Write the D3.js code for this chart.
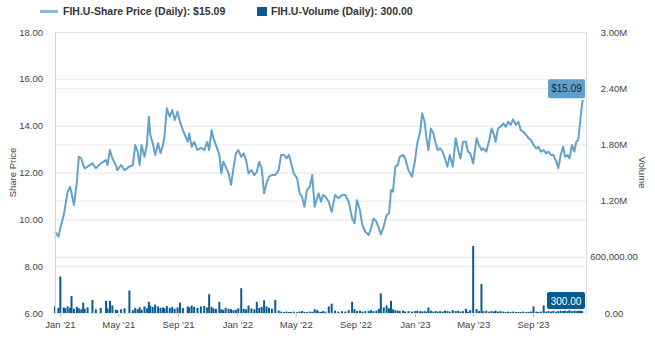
<!DOCTYPE html>
<html><head><meta charset="utf-8">
<script src="https://cdn.jsdelivr.net/npm/d3@7"></script>
<style>
html,body{margin:0;padding:0;background:#fff;}
svg{display:block;font-family:"Liberation Sans",Arial,sans-serif;}
</style></head>
<body>
<svg id="chart" width="655" height="349"></svg>
<script>
// ---- data ----
const dates = [
 "2020-12-22","2020-12-29","2021-01-02","2021-01-09","2021-01-12","2021-01-17","2021-01-22","2021-01-25","2021-01-30",
 "2021-02-05","2021-02-09","2021-02-14","2021-02-18","2021-02-21","2021-02-27",
 "2021-03-09","2021-03-16","2021-03-26",
 "2021-04-06","2021-04-09","2021-04-14","2021-04-19","2021-04-26","2021-04-29",
 "2021-05-07","2021-05-14","2021-05-24","2021-05-31",
 "2021-06-05","2021-06-10","2021-06-14","2021-06-18","2021-06-24","2021-06-29",
 "2021-07-03","2021-07-06","2021-07-11","2021-07-16","2021-07-22","2021-07-27",
 "2021-08-01","2021-08-04","2021-08-09","2021-08-15","2021-08-20","2021-08-25","2021-08-31",
 "2021-09-05","2021-09-11","2021-09-21","2021-09-24","2021-09-29",
 "2021-10-04","2021-10-11","2021-10-18","2021-10-25","2021-10-31",
 "2021-11-04","2021-11-09","2021-11-13","2021-11-18","2021-11-25","2021-11-29",
 "2021-12-03","2021-12-08","2021-12-14","2021-12-19","2021-12-24","2021-12-29",
 "2022-01-03","2022-01-09","2022-01-14","2022-01-19","2022-01-24","2022-01-30",
 "2022-02-05","2022-02-10","2022-02-15","2022-02-20","2022-02-25",
 "2022-03-02","2022-03-07","2022-03-13","2022-03-20","2022-03-27",
 "2022-04-01","2022-04-07","2022-04-12","2022-04-17","2022-04-21","2022-04-27",
 "2022-05-04","2022-05-09","2022-05-14","2022-05-19","2022-05-24","2022-05-30",
 "2022-06-04","2022-06-09","2022-06-14","2022-06-17","2022-06-22","2022-06-26",
 "2022-07-01","2022-07-08","2022-07-14","2022-07-21","2022-07-28",
 "2022-08-04","2022-08-11","2022-08-18","2022-08-25","2022-08-30",
 "2022-09-04","2022-09-10","2022-09-15","2022-09-21","2022-09-28",
 "2022-10-03","2022-10-08","2022-10-14","2022-10-19","2022-10-23","2022-10-29",
 "2022-11-04","2022-11-09","2022-11-13","2022-11-17","2022-11-22","2022-11-27",
 "2022-12-01","2022-12-08","2022-12-12","2022-12-19","2022-12-26",
 "2023-01-01","2023-01-06","2023-01-12","2023-01-16","2023-01-21","2023-01-25","2023-01-29",
 "2023-02-03","2023-02-08","2023-02-13","2023-02-17","2023-02-22","2023-02-27",
 "2023-03-04","2023-03-09","2023-03-14","2023-03-20","2023-03-26","2023-03-31",
 "2023-04-05","2023-04-10","2023-04-16","2023-04-20","2023-04-25",
 "2023-05-01","2023-05-08","2023-05-13","2023-05-18","2023-05-22","2023-05-28",
 "2023-06-03","2023-06-08","2023-06-13","2023-06-16","2023-06-21","2023-06-26",
 "2023-07-02","2023-07-07","2023-07-12","2023-07-17","2023-07-22","2023-07-28",
 "2023-08-02","2023-08-07","2023-08-12","2023-08-18","2023-08-23","2023-08-28",
 "2023-09-02","2023-09-08","2023-09-12","2023-09-17","2023-09-23","2023-09-28",
 "2023-10-03","2023-10-08","2023-10-13","2023-10-19","2023-10-23","2023-10-28",
 "2023-11-02","2023-11-06","2023-11-11","2023-11-15","2023-11-20","2023-11-25","2023-11-29",
 "2023-12-03","2023-12-06","2023-12-08","2023-12-11","2023-12-13"
];
const sharePrice = [
 9.47,9.26,9.62,10.18,10.54,11.18,11.39,11.11,10.61,
 11.60,12.67,12.60,12.32,12.18,12.25,
 12.39,12.18,12.39,
 12.53,12.32,12.96,12.60,12.32,12.10,
 12.32,12.10,12.25,12.32,
 13.17,12.89,12.32,13.17,12.67,13.17,
 14.38,13.60,13.25,12.75,13.25,12.82,
 13.17,13.53,14.74,14.38,14.67,14.24,14.60,
 14.17,13.81,13.31,13.67,13.10,
 13.31,12.96,13.05,12.96,13.31,
 12.96,13.81,13.46,13.17,12.75,11.96,
 12.46,12.25,11.96,11.47,12.18,12.82,
 12.96,12.67,12.82,12.53,11.96,12.10,
 11.89,12.03,12.46,12.18,11.11,
 11.54,11.82,11.89,11.89,12.10,
 12.75,12.75,12.60,12.75,12.46,11.96,
 11.75,11.11,10.97,10.54,11.25,11.39,
 11.89,10.54,10.90,11.11,10.75,11.04,
 10.97,10.75,10.32,11.04,10.90,
 11.04,11.04,10.75,10.04,9.83,
 10.82,10.40,9.76,9.47,9.33,
 9.62,10.04,9.90,9.62,9.36,9.69,
 10.18,10.26,11.25,11.18,12.25,12.32,
 12.67,12.75,12.60,12.10,11.82,
 12.46,13.25,13.74,14.53,14.17,13.46,12.96,
 13.88,13.67,13.25,12.96,13.03,12.89,
 12.60,12.25,12.75,12.25,13.46,12.96,
 12.60,13.31,13.31,12.89,12.82,
 12.39,13.46,13.17,12.96,13.03,12.89,
 13.39,13.88,13.60,13.31,13.88,13.95,
 14.10,13.95,14.17,14.03,14.27,14.03,
 14.17,13.81,13.74,13.60,13.46,13.39,
 13.17,13.03,13.10,12.89,12.96,12.82,
 12.89,12.75,12.75,12.46,12.18,12.75,
 13.10,12.67,12.75,12.60,13.17,12.89,13.31,
 13.39,13.95,14.38,14.95,15.09
];
// daily volume in thousands of shares
const volumeK = [
 70,55,390,60,50,70,55,180,45,
 65,50,40,110,45,60,
 140,40,55,
 130,50,130,80,35,30,
 40,50,240,30,
 55,40,60,35,70,50,
 120,80,65,90,70,55,
 60,50,75,55,65,45,60,
 110,55,70,60,80,
 65,55,70,75,60,
 200,65,50,45,120,40,
 35,55,45,40,30,35,
 50,265,45,40,80,50,
 40,120,55,65,135,
 70,55,45,140,25,
 15,10,15,10,12,15,
 10,15,20,12,10,15,
 12,40,30,15,12,20,
 15,70,100,25,15,
 20,15,30,120,40,
 20,25,15,20,25,
 30,20,25,45,210,60,
 80,50,130,40,30,25,
 20,25,15,20,15,
 20,25,20,15,20,15,60,
 25,15,20,15,20,15,
 25,20,15,30,20,25,
 15,20,45,15,30,
 715,40,20,310,20,25,
 15,20,15,25,15,20,
 15,10,15,10,15,10,
 12,10,15,10,12,15,
 70,15,10,15,80,15,
 20,15,25,15,20,25,
 20,25,20,30,20,25,20,
 25,20,25,20,0.3
];
const priceTicks = [6, 8, 10, 12, 14, 16, 18];
const volumeTicks = [0, 600000, 1200000, 1800000, 2400000, 3000000];
const volumeTickLabels = ["0.00", "600,000.00", "1.20M", "1.80M", "2.40M", "3.00M"];
const xTickDates = ["2021-01-01","2021-05-01","2021-09-01","2022-01-01","2022-05-01","2022-09-01","2023-01-01","2023-05-01","2023-09-01"];
const xTickLabels = ["Jan '21","May '21","Sep '21","Jan '22","May '22","Sep '22","Jan '23","May '23","Sep '23"];
const legendPrice = "FIH.U-Share Price (Daily): $15.09";
const legendVolume = "FIH.U-Volume (Daily): 300.00";
const lastPriceLabel = "$15.09";
const lastVolumeLabel = "300.00";

// ---- drawing ----
const parse = d3.utcParse("%Y-%m-%d");
const rows = dates.map((d, i) => ({ date: parse(d), price: sharePrice[i], vol: volumeK[i] * 1000 }));

const svg = d3.select("#chart");
const L = 55, R = 586, T = 32, B = 313;
const priceColor = "#62a2cb", volColor = "#0c5b8e";

const x = d3.scaleUtc().domain([parse("2020-12-22"), parse("2023-12-19")]).range([L, R]);
const yP = d3.scaleLinear().domain([6, 18]).range([B, T]);
const yV = d3.scaleLinear().domain([0, 3000000]).range([B, T]);

// gridlines
svg.append("g").selectAll("line").data(priceTicks).join("line")
  .attr("x1", L).attr("x2", R).attr("y1", d => yP(d) + 0.5).attr("y2", d => yP(d) + 0.5)
  .attr("stroke", "#e6e6e6").attr("stroke-width", 1);
svg.append("g").selectAll("line").data(volumeTicks).join("line")
  .attr("x1", L).attr("x2", R).attr("y1", d => yV(d) + 0.5).attr("y2", d => yV(d) + 0.5)
  .attr("stroke", "#e6e6e6").attr("stroke-width", 1);

// volume bars
svg.append("g").selectAll("rect").data(rows).join("rect")
  .attr("x", d => x(d.date) - 1).attr("width", 2)
  .attr("y", d => yV(d.vol)).attr("height", d => B - yV(d.vol))
  .attr("fill", volColor);

// price line
svg.append("path").datum(rows)
  .attr("fill", "none").attr("stroke", priceColor).attr("stroke-width", 2)
  .attr("stroke-linejoin", "round")
  .attr("d", d3.line().x(d => x(d.date)).y(d => yP(d.price)));

// axes lines
svg.append("line").attr("x1", L + 0.5).attr("x2", L + 0.5).attr("y1", T).attr("y2", B + 1)
  .attr("stroke", "#c9d6e2");
svg.append("line").attr("x1", R + 0.5).attr("x2", R + 0.5).attr("y1", T).attr("y2", B + 1)
  .attr("stroke", "#d6dee6");

// left axis
const axL = svg.append("g").attr("transform", `translate(${L - 9},0)`)
  .call(d3.axisLeft(yP).tickValues(priceTicks).tickFormat(d3.format(".2f")).tickSize(0));
axL.select(".domain").remove();
axL.selectAll("text").attr("font-size", 9.5).attr("fill", "#444").attr("font-family", "Liberation Sans, Arial, sans-serif");

// right axis (centered labels)
const axR = svg.append("g").attr("transform", `translate(614,0)`)
  .call(d3.axisRight(yV).tickValues(volumeTicks).tickFormat((d, i) => volumeTickLabels[i]).tickSize(0).tickPadding(0));
axR.select(".domain").remove();
axR.selectAll("text").attr("text-anchor", "middle").attr("font-size", 9.5).attr("fill", "#444").attr("font-family", "Liberation Sans, Arial, sans-serif");

// bottom axis
const axB = svg.append("g").attr("transform", `translate(0,${B + 1})`)
  .call(d3.axisBottom(x).tickValues(xTickDates.map(parse)).tickFormat((d, i) => xTickLabels[i]).tickSize(3).tickPadding(4));
axB.select(".domain").remove();
axB.selectAll("line").attr("stroke", "#bbb");
axB.selectAll("text").attr("font-size", 9.5).attr("fill", "#444").attr("font-family", "Liberation Sans, Arial, sans-serif");

// axis titles
svg.append("text").attr("transform", `translate(16,${(T + B) / 2}) rotate(-90)`)
  .attr("text-anchor", "middle").attr("font-size", 9.5).attr("fill", "#444").text("Share Price");
svg.append("text").attr("transform", `translate(639,${(T + B) / 2}) rotate(90)`)
  .attr("text-anchor", "middle").attr("font-size", 9.5).attr("fill", "#444").text("Volume");

// legend
svg.append("line").attr("x1", 40).attr("x2", 58).attr("y1", 11.5).attr("y2", 11.5)
  .attr("stroke", "#8bbadb").attr("stroke-width", 3);
svg.append("text").attr("x", 63).attr("y", 15).attr("font-size", 10.5).attr("font-weight", "bold")
  .attr("fill", "#333").text(legendPrice);
svg.append("rect").attr("x", 257).attr("y", 7).attr("width", 10).attr("height", 9).attr("fill", volColor);
svg.append("text").attr("x", 271).attr("y", 15).attr("font-size", 10.5).attr("font-weight", "bold")
  .attr("fill", "#333").text(legendVolume);

// last value labels
const last = rows[rows.length - 1];
svg.append("rect").attr("x", 548).attr("y", yP(last.price) - 21).attr("width", 37).attr("height", 19)
  .attr("rx", 2).attr("fill", "#5f9fc8");
svg.append("text").attr("x", 566.5).attr("y", yP(last.price) - 8).attr("text-anchor", "middle")
  .attr("font-size", 10).attr("fill", "#1d2b38").text(lastPriceLabel);
svg.append("rect").attr("x", 547).attr("y", 292).attr("width", 38).attr("height", 17)
  .attr("rx", 2).attr("fill", "#0a5a8d");
svg.append("text").attr("x", 566).attr("y", 304.5).attr("text-anchor", "middle")
  .attr("font-size", 10).attr("fill", "#fff").text(lastVolumeLabel);
</script>
</body></html>
